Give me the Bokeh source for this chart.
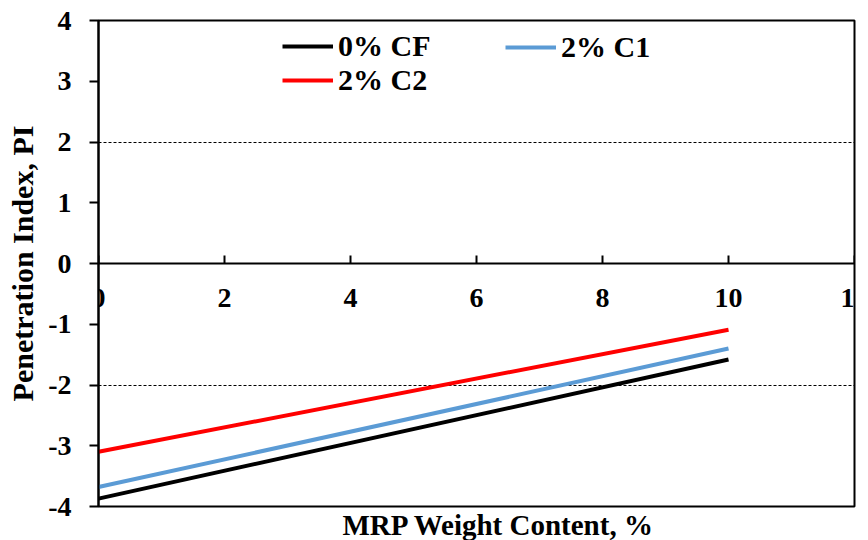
from bokeh.plotting import figure
from bokeh.models import Range1d, Legend, LegendItem, Title, FixedTicker, PrintfTickFormatter
from bokeh.embed import file_html
from bokeh.resources import INLINE

# Data
x_vals = [0, 10]
series_names = ["0% CF", "2% C1", "2% C2"]
cf = [-3.87, -1.58]
c1 = [-3.68, -1.40]
c2 = [-3.10, -1.09]
x_ticks = [0, 2, 4, 6, 8, 10, 12]
y_ticks = [-4, -3, -2, -1, 0, 1, 2, 3, 4]

FONT = "Liberation Serif"

p = figure(width=868, height=540, output_backend="svg", toolbar_location=None,
           x_range=Range1d(0, 12), y_range=Range1d(-4, 4),
           min_border_left=98, min_border_right=14, min_border_top=20, min_border_bottom=34)

p.background_fill_color = "white"
p.outline_line_color = "black"
p.outline_line_width = 2

# Grid
p.xgrid.grid_line_color = None
p.ygrid.ticker = FixedTicker(ticks=[-2, 2])
p.ygrid.grid_line_color = "black"
p.ygrid.grid_line_width = 1
p.ygrid.grid_line_dash = "3 2"

# X axis at y=0
xa = p.xaxis[0]
xa.fixed_location = 0
xa.ticker = FixedTicker(ticks=x_ticks)
xa.formatter = PrintfTickFormatter(format="%d")
xa.axis_line_width = 2
xa.axis_line_color = "black"
xa.major_tick_in = 8
xa.major_tick_out = 0
xa.major_tick_line_width = 2
xa.minor_tick_line_color = None
xa.major_label_text_font = FONT
xa.major_label_text_font_style = "bold"
xa.major_label_text_font_size = "28px"
xa.major_label_text_color = "black"
xa.major_label_standoff = 25

# Y axis
ya = p.yaxis[0]
ya.ticker = FixedTicker(ticks=y_ticks)
ya.formatter = PrintfTickFormatter(format="%d")
ya.axis_line_width = 2
ya.major_tick_in = 0
ya.major_tick_out = 9
ya.major_tick_line_width = 2
ya.minor_tick_line_color = None
ya.major_label_text_font = FONT
ya.major_label_text_font_style = "bold"
ya.major_label_text_font_size = "28px"
ya.major_label_text_color = "black"
ya.major_label_standoff = 18
ya.axis_label = "Penetration Index, PI"
ya.axis_label_text_font = FONT
ya.axis_label_text_font_style = "bold"
ya.axis_label_text_font_size = "30px"
ya.axis_label_text_color = "black"
ya.axis_label_standoff = 6

# Lines
r_cf = p.line(x_vals, cf, line_color="black", line_width=4)
r_c1 = p.line(x_vals, c1, line_color="#5B9BD5", line_width=4)
r_c2 = p.line(x_vals, c2, line_color="#FF0000", line_width=4)

def mk_legend(items, loc):
    return Legend(items=items, location=loc, orientation="vertical",
                  padding=0, margin=0, spacing=0,
                  border_line_color=None, background_fill_alpha=0,
                  glyph_width=51, glyph_height=30, label_height=30,
                  label_standoff=5,
                  label_text_font=FONT, label_text_font_style="bold",
                  label_text_font_size="30px", label_text_color="black")

leg1 = mk_legend([LegendItem(label=series_names[0], renderers=[r_cf]),
                  LegendItem(label=series_names[2], renderers=[r_c2])], (184, 409))
leg2 = mk_legend([LegendItem(label=series_names[1], renderers=[r_c1])], (407, 442))
p.add_layout(leg1, "center")
p.add_layout(leg2, "center")

# X axis title below
t = Title(text="MRP Weight Content, %", align="left", offset=244,
          text_font=FONT, text_font_style="bold", text_font_size="29px",
          text_color="black", standoff=0)
p.add_layout(t, "below")

open("out.html", "w").write(file_html(p, INLINE))
